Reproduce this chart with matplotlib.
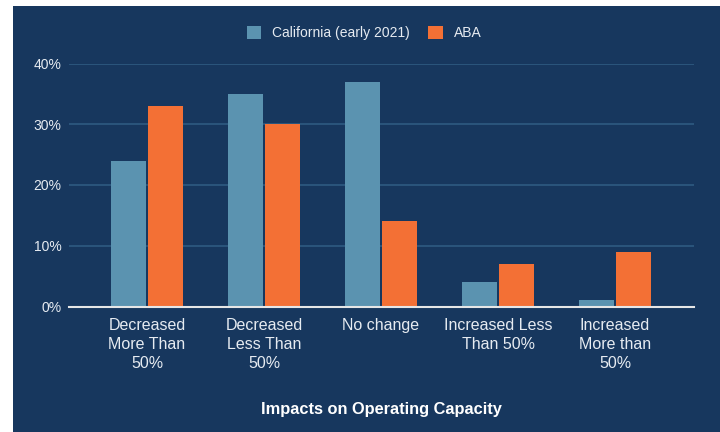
import matplotlib
matplotlib.use("Agg")
import matplotlib.pyplot as plt
import numpy as np
from matplotlib.patches import Rectangle

categories = ["Decreased\nMore Than\n50%", "Decreased\nLess Than\n50%", "No change",
              "Increased Less\nThan 50%", "Increased\nMore than\n50%"]
california = [24, 35, 37, 4, 1]
aba = [33, 30, 14, 7, 9]
series_names = ["California (early 2021)", "ABA"]

bg = "#17375e"
blue = "#5b93b0"
orange = "#f37035"
grid = "#2f5a82"
txt = "#e6ebf1"

plt.rcParams["font.family"] = ["Liberation Sans", "DejaVu Sans"]

fig = plt.figure(figsize=(7.2, 4.32), dpi=100)
fig.patch.set_facecolor("white")
# dark card, leaving the thin white margin on the top and left
card = Rectangle((13 / 720, 0), 1 - 13 / 720, 1 - 6 / 432,
                 transform=fig.transFigure, facecolor=bg, edgecolor="none", zorder=-10)
fig.add_artist(card)

ax = fig.add_axes([69 / 720, 1 - 306.5 / 432, (694 - 69) / 720, (306.5 - 63.5) / 432])
ax.patch.set_alpha(0)

x = np.arange(len(categories))
w = 0.3
ax.bar(x - 0.16, california, w, color=blue, label=series_names[0], zorder=3)
ax.bar(x + 0.16, aba, w, color=orange, label=series_names[1], zorder=3)

ax.set_xlim(-0.667, 4.675)
ax.set_ylim(0, 40)
ax.set_yticks([0, 10, 20, 30, 40])
ax.set_yticklabels([f"{v}%" for v in [0, 10, 20, 30, 40]])
ax.yaxis.grid(True, color=grid, linewidth=1.2, zorder=0)
ax.set_axisbelow(True)
ax.set_xticks(x)
ax.set_xticklabels(categories, linespacing=1.35)
ax.tick_params(axis="x", length=0, pad=8, colors=txt, labelsize=11.5)
ax.tick_params(axis="y", length=0, pad=5.5, colors=txt, labelsize=10)
for s in ["top", "right", "left"]:
    ax.spines[s].set_visible(False)
ax.spines["bottom"].set_color("#e6e6e6")
ax.spines["bottom"].set_linewidth(1.5)
ax.spines["bottom"].set_zorder(4)

ax.set_xlabel("Impacts on Operating Capacity", color="white", fontsize=11.8,
              fontweight="bold", labelpad=22)

leg = ax.legend(loc="center", bbox_to_anchor=(364 / 720, 1 - 33 / 432), bbox_transform=fig.transFigure,
                ncol=2, frameon=False, fontsize=10, labelcolor=txt, handlelength=1.05,
                handleheight=1.05, handletextpad=0.8, columnspacing=1.3)

fig.savefig("out.png", dpi=100, facecolor=fig.get_facecolor())
